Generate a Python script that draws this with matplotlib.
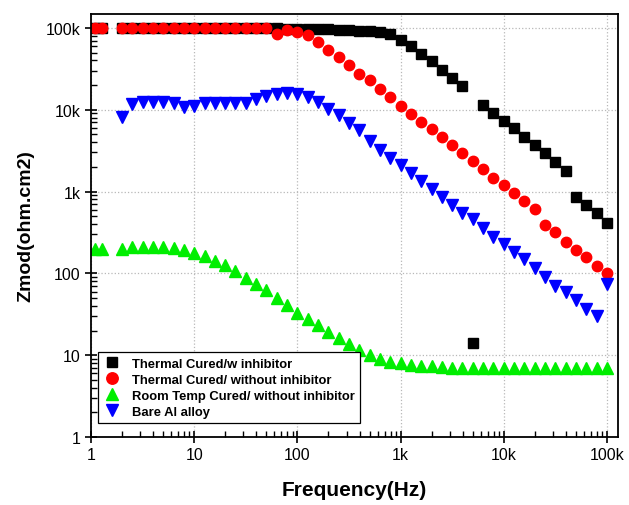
import matplotlib
matplotlib.use("Agg")
import matplotlib.pyplot as plt
from matplotlib.ticker import FixedLocator, LogLocator, NullFormatter
import numpy as np

plt.rcParams['font.family'] = ['Liberation Sans', 'DejaVu Sans']

freq = [1.1, 1.28, 2.0, 2.51, 3.16, 3.98, 5.01, 6.31, 7.94, 10.0,
        12.6, 15.8, 20.0, 25.1, 31.6, 39.8, 50.1, 63.1, 79.4, 100,
        126, 158, 200, 251, 316, 398, 501, 631, 794, 1000,
        1259, 1585, 1995, 2512, 3162, 3981, 5012, 6310, 7943, 10000,
        12589, 15849, 19953, 25119, 31623, 39811, 50119, 63096, 79433, 100000]

z_thermal_inhib = [100000, 100000, 100000, 100000, 100000, 100000, 100000, 100000, 100000, 100000,
                   100000, 100000, 100000, 100000, 100000, 100000, 100000, 99000, 98000, 98000,
                   97000, 96000, 96000, 95500, 95500, 91000, 91000, 90000, 85000, 71000,
                   60000, 48000, 39000, 31000, 24500, 19500, 14, 11500, 9100, 7300,
                   5900, 4700, 3700, 2960, 2300, 1780, 860, 690, 540, 415]

z_thermal_noinhib = [100000, 100000, 100000, 100000, 100000, 100000, 100000, 100000, 100000, 100000,
                     100000, 100000, 100000, 100000, 100000, 100000, 100000, 85000, 93000, 89000,
                     81000, 68000, 54000, 44000, 35000, 27500, 23000, 17800, 14100, 11200,
                     8900, 7100, 5800, 4700, 3700, 2950, 2350, 1900, 1480, 1200,
                     955, 776, 617, 389, 316, 245, 195, 158, 123, 100]

z_roomtemp = [200, 200, 200, 209, 209, 209, 209, 204, 195, 178,
              164, 143, 126, 107, 88, 74, 62, 50, 41, 33,
              28, 23.5, 19, 16.2, 13.8, 11.7, 10, 8.9, 8.3, 8.0,
              7.6, 7.4, 7.3, 7.1, 7.0, 7.0, 7.0, 7.0, 7.0, 7.0,
              7.0, 7.0, 7.0, 7.0, 7.0, 7.0, 7.0, 7.0, 7.0, 7.0]

z_bare = [np.nan, np.nan, 8100, 11700, 12300, 12300, 12300, 12000, 10700, 11000,
          12000, 12000, 12000, 12000, 12000, 13500, 14600, 15500, 16000, 15500,
          14200, 12300, 10200, 8500, 6900, 5600, 4100, 3200, 2600, 2100,
          1700, 1350, 1070, 850, 676, 550, 457, 355, 282, 229,
          182, 148, 117, 91, 71, 60, 47, 37, 30, 74]

labels = ["Thermal Cured/w inhibitor", "Thermal Cured/ without inhibitor",
          "Room Temp Cured/ without inhibitor", "Bare Al alloy"]
tick_vals = [1, 10, 100, 1000, 10000, 100000]
tick_labels = ["1", "10", "100", "1k", "10k", "100k"]

fig = plt.figure(figsize=(6.29, 5.06), dpi=100)
ax = fig.add_axes([0.1447, 0.1344, 0.9825 - 0.1447, 0.9704 - 0.1344])

ax.plot(freq, z_thermal_inhib, 's', color='black', markersize=6.8, linestyle='none', label=labels[0])
ax.plot(freq, z_thermal_noinhib, 'o', color='#ff0000', markersize=7.5, linestyle='none', label=labels[1])
ax.plot(freq, z_roomtemp, '^', color='#00ee00', markersize=8, linestyle='none', label=labels[2])
ax.plot(freq, z_bare, 'v', color='#0000ff', markersize=8, linestyle='none', label=labels[3])

ax.set_xscale('log')
ax.set_yscale('log')
ax.set_xlim(1, 10 ** 5.107)
ax.set_ylim(1, 10 ** 5.17)

ax.xaxis.set_major_locator(FixedLocator(tick_vals))
ax.yaxis.set_major_locator(FixedLocator(tick_vals))
ax.set_xticklabels(tick_labels)
ax.set_yticklabels(tick_labels)
ax.xaxis.set_minor_locator(LogLocator(base=10, subs=np.arange(2, 10), numticks=20))
ax.yaxis.set_minor_locator(LogLocator(base=10, subs=np.arange(2, 10), numticks=20))
ax.xaxis.set_minor_formatter(NullFormatter())
ax.yaxis.set_minor_formatter(NullFormatter())

ax.tick_params(which='major', direction='inout', length=8, width=1.2, labelsize=11.5)
ax.tick_params(which='minor', direction='in', length=4, width=1.0)
ax.tick_params(top=False, right=False)

ax.grid(True, which='major', linestyle=':', color='#b8b8b8', linewidth=0.9)
for s in ax.spines.values():
    s.set_linewidth(1.3)

ax.set_xlabel("Frequency(Hz)", fontsize=15, fontweight='bold', labelpad=13)
ax.set_ylabel("Zmod(ohm.cm2)", fontsize=14, fontweight='bold', labelpad=8)

leg = ax.legend(loc='lower left', bbox_to_anchor=(0.013, 0.033), borderaxespad=0,
                prop={'weight': 'bold', 'size': 9.4}, frameon=True, fancybox=False,
                edgecolor='black', framealpha=1, labelspacing=0.3, handletextpad=0.8,
                borderpad=0.4, handlelength=1.4, markerscale=1.1)
leg.get_frame().set_linewidth(0.9)

fig.savefig("out.png", dpi=100)
